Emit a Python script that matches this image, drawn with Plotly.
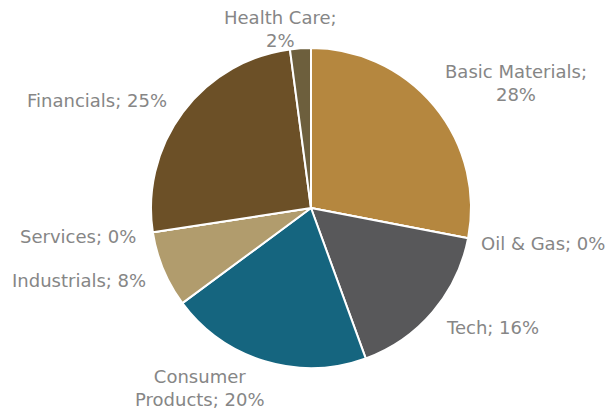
import plotly.graph_objects as go

categories = ["Basic Materials", "Oil & Gas", "Tech", "Consumer Products",
              "Industrials", "Services", "Financials", "Health Care"]
values = [28.0, 0.0, 16.4, 20.4, 7.7, 0.0, 25.3, 2.1]
colors = ["#B5873F", "#A0A0A0", "#58585A", "#15657F",
          "#B19C6D", "#909090", "#6C5027", "#6D5F3D"]
# label line-break style per category (text only)
label_break = [True, False, False, True, False, False, False, True]

W, H = 608, 409
# label centres in pixels (layout)
label_pos = [(516, 83), (543, 243), (492, 327), (200, 388),
             (79, 280), (78, 236), (97, 100), (280, 29)]

total = sum(values)
fig = go.Figure()
cx, cy, r = 311, 208, 160
fig.add_trace(go.Pie(
    labels=categories, values=values, sort=False, direction="clockwise",
    rotation=0, textinfo="none", hoverinfo="label+percent",
    marker=dict(colors=colors, line=dict(color="white", width=2)),
    domain=dict(x=[(cx - r) / W, (cx + r) / W],
                y=[(H - cy - r) / H, (H - cy + r) / H]),
    showlegend=False,
))

annotations = []
for name, v, brk, (px, py) in zip(categories, values, label_break, label_pos):
    pct = round(v / total * 100)
    if brk:
        words = name.split(" ")
        if name == "Consumer Products":
            text = f"{words[0]}<br>{' '.join(words[1:])}; {pct}%"
        else:
            text = f"{name};<br>{pct}%"
    else:
        text = f"{name}; {pct}%"
    annotations.append(dict(
        x=px / W, y=1 - py / H, xref="paper", yref="paper",
        text=text, showarrow=False, xanchor="center", yanchor="middle",
        font=dict(family="DejaVu Sans, Verdana, sans-serif", size=18, color="#868686"),
    ))

fig.update_layout(
    width=W, height=H, margin=dict(l=0, r=0, t=0, b=0),
    paper_bgcolor="white", plot_bgcolor="white",
    annotations=annotations,
)
fig.write_html("out.html")
